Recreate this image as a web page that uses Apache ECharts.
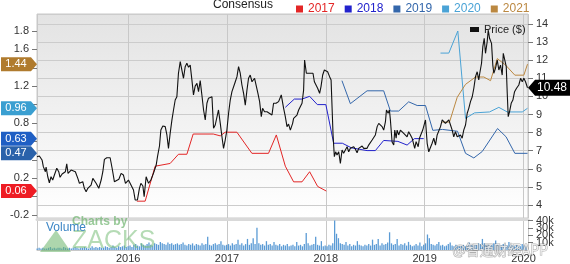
<!DOCTYPE html>
<html><head><meta charset="utf-8">
<script src="https://cdn.jsdelivr.net/npm/echarts@6/dist/echarts.min.js"></script>
<style>html,body{margin:0;padding:0;background:#fff}#c{width:570px;height:264px}</style>
</head><body><div id="c"></div>
<script>
// ---- data (x = decimal year) ----
const xMin = 2015.078, xMax = 2020.045;
const epsShownLabels = [1.8, 1.6, 1.2, 0.8, 0.2, -0.2];
const price = [
[2015.078,6.67],[2015.102,6.71],[2015.129,6.49],[2015.142,6.12],[2015.163,5.84],[2015.170,6.10],[2015.187,5.56],[2015.203,5.23],
[2015.220,5.56],[2015.237,5.38],[2015.254,5.66],[2015.278,6.03],[2015.298,5.84],[2015.311,5.53],[2015.332,5.71],[2015.345,5.66],
[2015.365,5.84],[2015.379,6.27],[2015.392,5.75],[2015.406,5.84],[2015.423,5.93],[2015.440,5.90],[2015.466,5.84],[2015.491,5.47],
[2015.507,5.20],[2015.524,5.10],[2015.541,5.29],[2015.557,4.92],[2015.575,4.73],[2015.592,4.92],[2015.608,4.83],[2015.625,5.10],
[2015.643,5.47],[2015.659,5.42],[2015.676,5.20],[2015.703,4.92],[2015.727,5.38],[2015.744,5.84],[2015.760,6.52],[2015.784,6.61],
[2015.818,6.61],[2015.838,6.03],[2015.861,5.29],[2015.878,5.38],[2015.906,5.42],[2015.929,5.75],[2015.952,5.66],[2015.973,5.20],
[2016.003,5.38],[2016.020,5.20],[2016.054,4.83],[2016.071,4.28],[2016.094,4.28],[2016.114,4.92],[2016.129,5.20],[2016.149,5.05],
[2016.162,4.46],[2016.182,5.56],[2016.206,5.20],[2016.230,5.38],[2016.256,5.75],[2016.284,6.21],[2016.297,6.67],[2016.317,7.26],
[2016.331,8.14],[2016.351,8.36],[2016.375,8.33],[2016.392,7.87],[2016.408,7.13],[2016.425,7.96],[2016.443,8.70],[2016.459,9.25],
[2016.476,9.80],[2016.493,9.98],[2016.509,11.28],[2016.527,11.92],[2016.544,11.83],[2016.560,11.00],[2016.577,11.64],[2016.594,11.83],
[2016.611,11.61],[2016.628,11.73],[2016.645,10.91],[2016.661,10.08],[2016.678,10.57],[2016.696,10.72],[2016.712,10.26],[2016.729,10.87],
[2016.746,10.08],[2016.763,9.25],[2016.780,8.70],[2016.797,9.62],[2016.813,9.90],[2016.830,9.80],[2016.848,9.98],[2016.864,8.24],
[2016.881,8.42],[2016.898,8.36],[2016.914,9.25],[2016.932,8.51],[2016.949,7.77],[2016.965,7.13],[2016.982,7.59],[2016.999,8.14],
[2017.016,9.07],[2017.033,9.80],[2017.050,10.26],[2017.066,10.35],[2017.084,10.81],[2017.101,11.09],[2017.117,11.64],[2017.134,11.28],
[2017.151,10.63],[2017.168,10.17],[2017.185,9.52],[2017.202,10.35],[2017.218,11.00],[2017.235,11.18],[2017.253,10.81],[2017.279,11.00],
[2017.293,10.91],[2017.313,10.17],[2017.330,9.71],[2017.347,8.88],[2017.360,9.34],[2017.380,9.15],[2017.405,9.15],[2017.428,9.07],
[2017.455,8.97],[2017.471,9.62],[2017.496,9.62],[2017.522,9.71],[2017.549,10.08],[2017.573,9.34],[2017.590,8.88],[2017.607,8.33],
[2017.623,8.47],[2017.641,8.14],[2017.664,8.51],[2017.674,8.79],[2017.708,8.97],[2017.725,9.25],[2017.742,9.19],[2017.759,9.62],
[2017.775,10.35],[2017.785,12.01],[2017.803,11.28],[2017.820,11.35],[2017.836,11.28],[2017.853,11.18],[2017.870,11.28],[2017.884,10.81],
[2017.904,10.72],[2017.917,10.45],[2017.937,10.17],[2017.951,10.54],[2017.968,11.18],[2017.985,11.46],[2018.005,11.50],[2018.018,11.36],
[2018.038,11.09],[2018.053,10.91],[2018.073,7.87],[2018.086,6.67],[2018.099,6.94],[2018.113,6.76],[2018.130,6.94],[2018.147,6.30],
[2018.164,7.04],[2018.180,6.86],[2018.197,6.94],[2018.215,7.22],[2018.231,6.94],[2018.248,7.13],[2018.265,7.04],[2018.282,7.22],
[2018.299,7.08],[2018.316,6.89],[2018.332,7.13],[2018.349,7.04],[2018.367,7.26],[2018.383,7.13],[2018.400,7.22],[2018.417,7.13],
[2018.433,7.31],[2018.451,7.22],[2018.468,7.59],[2018.484,7.50],[2018.501,7.87],[2018.519,8.33],[2018.535,8.51],[2018.552,8.42],
[2018.569,8.33],[2018.585,8.14],[2018.603,8.60],[2018.613,9.25],[2018.630,9.07],[2018.643,9.25],[2018.653,8.70],[2018.670,7.48],
[2018.687,7.31],[2018.697,8.14],[2018.711,7.69],[2018.721,8.14],[2018.737,7.87],[2018.754,8.14],[2018.772,8.24],[2018.788,7.96],
[2018.805,8.05],[2018.822,7.77],[2018.838,8.05],[2018.856,7.87],[2018.873,7.69],[2018.889,7.77],[2018.899,7.13],[2018.913,7.50],
[2018.934,7.22],[2018.947,7.69],[2018.967,7.59],[2018.980,8.14],[2018.990,8.05],[2019.008,8.70],[2019.025,7.41],[2019.041,6.94],
[2019.058,6.86],[2019.075,7.41],[2019.092,7.69],[2019.109,7.31],[2019.126,7.87],[2019.142,7.87],[2019.160,8.33],[2019.177,8.70],
[2019.193,8.59],[2019.210,8.51],[2019.227,8.59],[2019.244,8.70],[2019.261,8.42],[2019.278,8.14],[2019.294,7.77],[2019.311,8.05],
[2019.329,7.77],[2019.345,7.69],[2019.362,7.87],[2019.379,7.69],[2019.395,8.14],[2019.413,8.42],[2019.430,9.07],[2019.446,9.34],
[2019.463,9.71],[2019.481,9.98],[2019.497,10.45],[2019.514,11.09],[2019.531,11.36],[2019.547,10.91],[2019.557,11.28],[2019.575,11.83],
[2019.588,12.75],[2019.602,13.21],[2019.615,12.38],[2019.632,13.02],[2019.643,13.67],[2019.656,13.21],[2019.676,12.93],[2019.689,11.73],
[2019.699,11.28],[2019.716,11.55],[2019.734,12.01],[2019.750,11.46],[2019.767,11.73],[2019.784,11.18],[2019.795,12.38],[2019.811,12.38],
[2019.825,11.64],[2019.835,10.17],[2019.845,8.88],[2019.858,9.15],[2019.875,9.62],[2019.892,9.80],[2019.909,10.26],[2019.929,10.45],
[2019.952,10.63],[2019.970,11.00],[2019.987,10.81],[2020.003,11.00],[2020.020,10.81],[2020.040,10.48]
];
const eps2017 = [[2016.088,-0.05],[2016.172,-0.05],[2016.273,0.33],[2016.425,0.36],[2016.509,0.46],[2016.594,0.46],[2016.658,0.68],
[2016.861,0.68],[2016.932,0.66],[2016.982,0.70],[2017.100,0.70],[2017.252,0.47],[2017.420,0.47],[2017.499,0.67],[2017.590,0.33],
[2017.674,0.16],[2017.759,0.16],[2017.836,0.27],[2017.917,0.11],[2018.005,0.06]];
const eps2018 = [[2017.590,0.97],[2017.681,1.06],[2017.759,1.06],[2017.836,1.09],[2017.914,1.00],[2018.000,1.00],[2018.079,0.58],
[2018.167,0.58],[2018.258,0.53],[2018.417,0.50],[2018.501,0.50],[2018.585,0.61],[2018.729,0.60],[2018.822,0.56],[2018.896,0.63],[2018.990,0.63]];
const eps2019 = [[2018.163,1.26],[2018.248,1.01],[2018.417,1.15],[2018.585,1.15],[2018.653,0.93],[2018.737,0.93],[2018.838,1.03],
[2018.924,0.99],[2019.008,0.99],[2019.082,0.72],[2019.180,0.73],[2019.332,0.71],[2019.413,0.47],[2019.497,0.42],[2019.582,0.49],
[2019.737,0.74],[2019.823,0.65],[2019.912,0.47],[2020.040,0.47]];
const eps2020 = [[2019.160,1.56],[2019.244,1.56],[2019.335,1.80],[2019.413,0.85],[2019.504,0.91],[2019.656,0.92],[2019.750,0.97],
[2019.835,0.92],[2019.987,0.92],[2020.040,0.96]];
const eps2021 = [[2019.177,0.81],[2019.251,0.81],[2019.329,1.08],[2019.413,1.22],[2019.514,1.30],[2019.598,1.30],[2019.666,1.26],
[2019.734,1.50],[2019.818,1.43],[2019.912,1.32],[2020.003,1.32],[2020.040,1.44]];
const volStart = 2015.08; // weekly volumes (thousands)
const volumeK = [
2,3,2,3,2,2,3,4,2,3,2,3,3,2,4,3,2,3,2,3,4,3,2,3,3,4,
3,2,3,5,3,4,3,4,3,3,5,4,3,4,6,4,3,5,4,5,6,4,
5,6,4,7,8,6,5,9,7,6,8,10,7,6,9,8,7,11,9,8,7,10,8,9,7,8,
9,7,8,10,7,6,8,7,9,6,8,7,6,9,7,8,18,7,6,8,9,7,8,12,7,6,
7,8,6,9,7,8,14,7,9,6,8,15,7,9,16,8,30,9,7,8,6,12,7,8,6,11,
7,6,8,5,7,6,8,5,6,7,5,11,6,7,5,8,23,9,6,7,8,18,7,6,12,5,
6,5,7,6,9,40,22,16,9,8,7,11,6,8,5,7,6,12,7,6,5,7,6,8,6,14,
7,8,15,6,9,7,8,10,24,9,7,8,15,6,8,7,9,6,11,7,5,6,8,6,10,5,
7,9,21,16,8,7,6,8,11,6,7,5,6,8,10,6,5,7,6,5,6,7,5,6,10,7,
6,8,7,9,8,15,9,7,8,6,7,9,13,8,7,6,8,7,6,11,7,6,5,7,6,5,8,6,5
];
const seriesInfo = [
  {name:'2017', data:eps2017, color:'#e32626', badge:'#ee1c24'},
  {name:'2018', data:eps2018, color:'#2222cc', badge:'#1f5fc4'},
  {name:'2019', data:eps2019, color:'#3467ab', badge:'#2a62aa'},
  {name:'2020', data:eps2020, color:'#4aa3d6', badge:'#3a9fd1'},
  {name:'2021', data:eps2021, color:'#bb8841', badge:'#b07b2e'}
];
const lastPrice = price[price.length-1][1];

const volData = volumeK.map((v,i)=>[volStart + i*7/365.25, v]);
const FONT = 'Liberation Sans, Arial, sans-serif';
const leftArrow = 'path://M0,0 L30,0 L36,7 L30,14 L0,14 Z';
const rightArrow = 'path://M0,8 L7,0 L42,0 L42,16 L7,16 Z';

const chart = echarts.init(document.getElementById('c'), null, {renderer:'canvas'});
const isInt = v => Math.abs(v - Math.round(v)) < 1e-6;

const epsSeries = seriesInfo.map(s => ({
  name: s.name, type:'line', xAxisIndex:0, yAxisIndex:0, data:s.data, symbol:'none',
  lineStyle:{color:s.color, width:1}, itemStyle:{color:s.color}, z:3,
  markPoint:{
    symbol:leftArrow, symbolSize:[36,14], symbolOffset:[-18,0],
    itemStyle:{color:s.badge},
    label:{show:true, position:'inside', offset:[-3,0], color:'#fff', fontSize:11, fontFamily:FONT,
      formatter: p => p.value},
    data:[{coord:[xMin, s.data[s.data.length-1][1]], value: s.data[s.data.length-1][1].toFixed(2)}]
  }
}));

chart.setOption({
  animation:false,
  textStyle:{fontFamily:FONT},
  grid:[
    {left:37, right:42, top:14, height:204, show:true, borderColor:'#c8c8c8', borderWidth:1,
     backgroundColor:new echarts.graphic.LinearGradient(0,0,0,1,[{offset:0,color:'#e3e3e3'},{offset:1,color:'#ffffff'}])},
    {left:37, right:42, top:219, height:34, show:false}
  ],
  legend:[
    {left:291, top:-2, itemWidth:7, itemHeight:7, itemGap:10, icon:'rect', selectedMode:false,
     textStyle:{fontSize:12, fontFamily:FONT},
     data: seriesInfo.map(s=>({name:s.name, textStyle:{color:s.color}}))},
    {left:465, top:19, itemWidth:9, itemHeight:5, icon:'rect', selectedMode:false,
     textStyle:{fontSize:11, color:'#222', fontFamily:FONT}, data:['Price ($)']}
  ],
  xAxis:[
    {type:'value', gridIndex:0, min:xMin, max:xMax, splitNumber:5,
     axisLine:{show:false}, axisTick:{show:false}, axisLabel:{show:false},
     splitLine:{show:true, lineStyle:{color:'#c8c8c8'}}},
    {type:'value', gridIndex:1, min:xMin, max:xMax, splitNumber:5,
     axisLine:{show:true, lineStyle:{color:'#c8c8c8'}}, axisTick:{show:false},
     axisLabel:{show:true, margin:3, fontSize:11, color:'#333', showMinLabel:false, showMaxLabel:false,
       formatter:v => isInt(v) ? String(Math.round(v)) : ''},
     splitLine:{show:true, lineStyle:{color:'#c8c8c8'}}},
    {type:'value', gridIndex:1, min:xMin, max:xMax, position:'top',
     axisLine:{show:true, lineStyle:{color:'#d9d9d9', width:3}}, axisTick:{show:false},
     axisLabel:{show:false}, splitLine:{show:false}}
  ],
  yAxis:[
    {type:'value', gridIndex:0, position:'left', min:-0.233, max:1.985, splitNumber:11,
     axisLine:{show:false}, axisTick:{show:true, length:5, lineStyle:{color:'#777'}},
     axisLabel:{margin:8, fontSize:11, color:'#333', showMinLabel:false, showMaxLabel:false,
       formatter:v => epsShownLabels.some(l => Math.abs(l - v) < 1e-6) ? v.toFixed(1) : ''},
     splitLine:{show:false}},
    {type:'value', gridIndex:0, position:'right', min:3.282, max:14.552, splitNumber:11,
     axisLine:{show:false}, axisTick:{show:true, length:5, lineStyle:{color:'#777'}},
     axisLabel:{margin:8, fontSize:11, color:'#333', showMinLabel:false, showMaxLabel:false,
       formatter:v => isInt(v) ? String(Math.round(v)) : ''},
     splitLine:{show:true, lineStyle:{color:'#cccccc'}}},
    {type:'value', gridIndex:1, position:'right', min:0, max:42, interval:10,
     axisLine:{show:false}, axisTick:{show:true, length:5, lineStyle:{color:'#777'}},
     axisLabel:{margin:8, fontSize:11, color:'#333', lineHeight:9, showMaxLabel:false,
       formatter:v => (v % 10 === 0) ? (v ? v + 'k' : '0') : ''},
     splitLine:{show:false}}
  ],
  series:[
    ...epsSeries,
    {name:'Price ($)', type:'line', xAxisIndex:0, yAxisIndex:1, data:price, symbol:'none', z:4,
     lineStyle:{color:'#111', width:1.1}, itemStyle:{color:'#111'},
     markPoint:{
       symbol:rightArrow, symbolSize:[42,16], symbolOffset:[21,0], itemStyle:{color:'#000'},
       label:{show:true, position:'inside', offset:[3,0], color:'#fff', fontSize:12, fontFamily:FONT, formatter:p=>p.value},
       data:[{coord:[xMax, lastPrice], value:lastPrice.toFixed(2)}]
     }},
    {name:'Volume', type:'bar', xAxisIndex:1, yAxisIndex:2, data:volData, barWidth:1.3,
     itemStyle:{color:'#5b9bd5'}, z:2}
  ],
  graphic:[
    {type:'text', left:213, top:-1, style:{text:'Consensus', fill:'#222', font:'12px '+FONT}},
    {type:'polygon', z:10, shape:{points:[[40,252],[56,230],[71,252]]}, style:{fill:'rgba(105,180,105,0.55)'}},
    {type:'text', z:10, left:72, top:216, style:{text:'Charts by', fill:'rgba(110,180,110,0.7)', font:'bold 12px '+FONT}},
    {type:'text', z:10, left:72, top:229, style:{text:'ZACKS', fill:'rgba(120,190,120,0.55)', font:'25px '+FONT}},
    {type:'text', z:11, left:46, top:222, style:{text:'Volume', fill:'#3d86c6', font:'12px '+FONT}},
    {type:'text', z:11, left:452, top:242, style:{text:'@智通财经APP', fill:'rgba(255,255,255,0.75)', stroke:'rgba(110,110,110,0.55)', lineWidth:1, font:'14px "Noto Sans CJK SC"'}}
  ]
});
</script></body></html>
